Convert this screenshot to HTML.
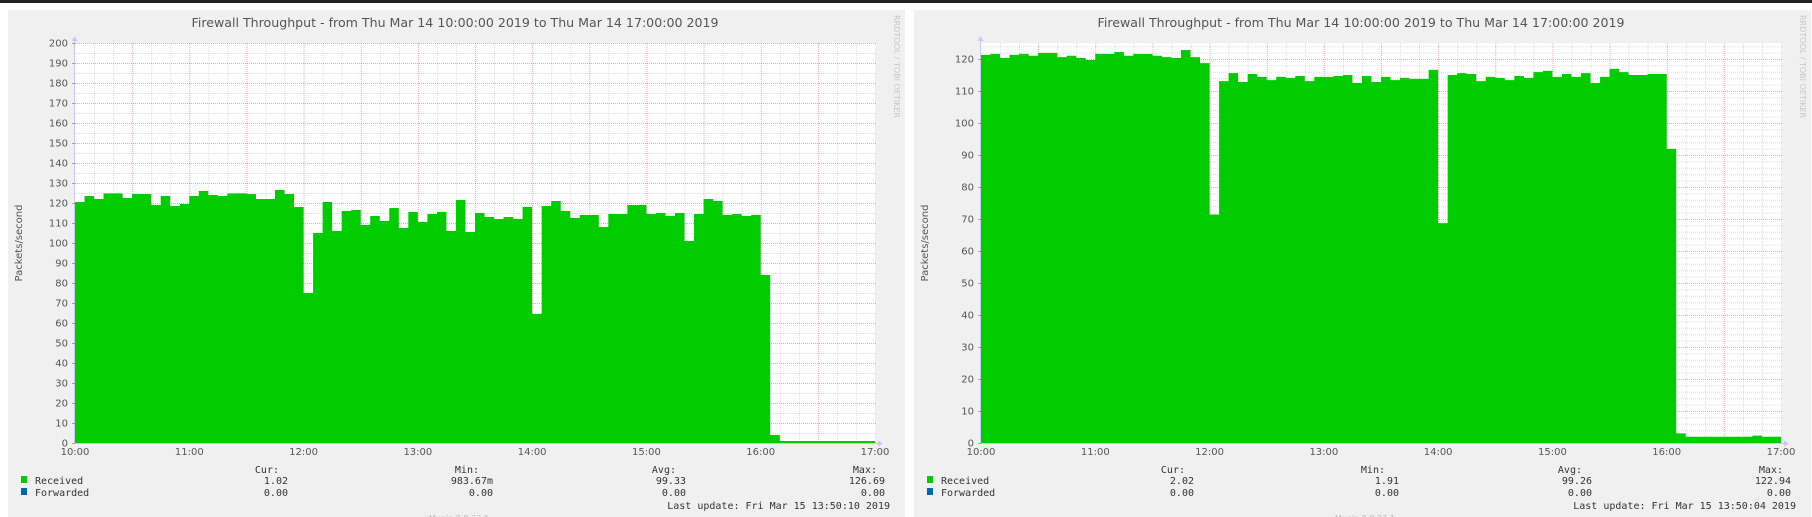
<!DOCTYPE html>
<html><head><meta charset="utf-8">
<style>
html,body{margin:0;padding:0;background:#fff;}
svg{display:block;}
</style></head>
<body>
<svg id="root" width="1812" height="517" viewBox="0 0 1812 517" xmlns="http://www.w3.org/2000/svg">
<rect x="0" y="0" width="1812" height="3" fill="#222"/>
</svg>
<script>
const timeLabels = ["10:00","11:00","12:00","13:00","14:00","15:00","16:00","17:00"];
const leftReceived = [120.5,123.5,122,124.8,124.8,122.5,124.5,124.5,119,123.5,118.5,119.5,123.5,126,124,123.5,124.8,124.8,124.5,122,122,126.5,124.5,118,75,105,120.5,106,116,116.5,109,113.5,111,117.5,107.5,115.5,110.5,114.5,115.5,106,121.5,105.5,115,113,112,113,112,118,64.5,118.5,121,116,112.5,114,114,108,114.5,114.5,119,119,114.5,115,113.5,115,101,114.5,122,121,114,114.5,113.5,114,84,4,1,1,1,1,1,1,1,1,1,1];
const rightReceived = [121.3,121.6,120.3,121.3,121.6,121,121.9,121.9,120.6,121,120.3,119.7,121.6,121.6,122.2,121,121.6,121.6,121,120.6,120.3,122.8,120.6,118.7,71.4,113.1,115.6,112.8,115.3,114.4,113.4,114.4,114.1,114.7,113.1,114.4,114.4,114.7,115,112.5,114.7,112.8,114.4,113.4,114.1,113.8,113.8,116.6,68.7,115,115.6,115.3,113.1,114.4,114.1,113.4,114.7,114.1,115.9,116.3,114.4,115.3,114.4,115.6,112.5,114.4,116.9,115.9,115,115,115.3,115.3,91.9,3,1.95,1.95,1.95,1.95,1.95,1.95,1.95,2.3,1.95,1.95];
const leftYTicks = [0,10,20,30,40,50,60,70,80,90,100,110,120,130,140,150,160,170,180,190,200];
const rightYTicks = [0,10,20,30,40,50,60,70,80,90,100,110,120];
const leftStats = ["1.02","983.67m","99.33","126.69"];
const rightStats = ["2.02","1.91","99.26","122.94"];
const leftUpdate = "Last update: Fri Mar 15 13:50:10 2019";
const rightUpdate = "Last update: Fri Mar 15 13:50:04 2019";

const NS = "http://www.w3.org/2000/svg";
const root = document.getElementById('root');
function mk(tag, attrs, parent){
  const e = document.createElementNS(NS, tag);
  for (const k in attrs) e.setAttribute(k, attrs[k]);
  (parent||root).appendChild(e);
  return e;
}
function txt(str, attrs, parent){ const t = mk('text', attrs, parent); t.textContent = str; return t; }

function drawPanel(ox, data, yMax, yTicks, minorStep, stats, updateStr, name){
  const g = mk('g', {transform:'translate('+ox+',0)'});
  
  
  const bg = mk('rect', {x:8, y:10, width:897, height:507, fill:'#f0f0f0'}, g);
  
  
  const L = 75, R = 875, T = 43, B = 443;
  const xs = i => L + i*(R-L)/data.length;
  const ys = v => B - v*(B-T)/yMax;
  const plot = mk('rect', {x:L, y:T, width:R-L, height:B-T, fill:'#fff'}, g);
  
  
  // grid
  const grid = mk('g', {}, g);
  
  
  for (let v = 0; v <= yMax + 0.001; v += minorStep){
    const major = Math.abs(v/10 - Math.round(v/10)) < 1e-6;
    if (v === 0) continue;
    mk('line', {x1:L, x2:R+2, y1:ys(v)+0.5, y2:ys(v)+0.5, stroke: major?'rgba(210,40,40,0.4)':'rgba(0,0,0,0.13)', 'stroke-width':1, 'stroke-dasharray':'1,1'}, grid);
  }
  for (let m = 10; m < 420; m += 10){
    const x = L + m*(R-L)/420;
    const major = m % 30 === 0;
    mk('line', {x1:x+0.5, x2:x+0.5, y1:T, y2:B, stroke: major?'rgba(210,40,40,0.4)':'rgba(0,0,0,0.13)', 'stroke-width':1, 'stroke-dasharray':'1,1'}, grid);
  }
  // area
  let d = 'M'+L+','+B;
  data.forEach((v,i)=>{ d += ' L'+xs(i)+','+ys(v)+' L'+xs(i+1)+','+ys(v); });
  d += ' L'+R+','+B+' Z';
  const area = mk('path', {d:d, fill:'#00cc00'}, g);
  
  
  // axes
  const axis = mk('g', {}, g);
  
  
  mk('line', {x1:L-0.5, x2:L-0.5, y1:T-4, y2:B+1, stroke:'#c8c8ff', 'stroke-width':1}, axis);
  mk('line', {x1:L-1, x2:R+4, y1:B+0.5, y2:B+0.5, stroke:'#c8c8ff', 'stroke-width':1}, axis);
  mk('path', {d:'M'+(L-3.5)+','+(T-2)+' L'+(L-0.5)+','+(T-7)+' L'+(L+2.5)+','+(T-2)+' Z', fill:'#c8c8ff'}, axis);
  mk('path', {d:'M'+(R+3)+','+(B-2.5)+' L'+(R+8)+','+(B+0.5)+' L'+(R+3)+','+(B+3.5)+' Z', fill:'#c8c8ff'}, axis);
  // y ticks
  yTicks.forEach(v=>{
    const t = txt(String(v), {x:L-7, y:ys(v)+3.5, 'text-anchor':'end', 'font-family':'DejaVu Sans, sans-serif', 'font-size':'10', fill:'#555'}, g);
    
    
    mk('line', {x1:L-3, x2:L, y1:ys(v)+0.5, y2:ys(v)+0.5, stroke:'rgba(210,40,40,0.5)'}, g);
  });
  // x ticks
  timeLabels.forEach((s,i)=>{
    const x = L + i*(R-L)/(timeLabels.length-1);
    const t = txt(s, {x:x, y:455, 'text-anchor':'middle', 'font-family':'DejaVu Sans, sans-serif', 'font-size':'10', fill:'#555'}, g);
    
    
  });
  // title
  const title = txt('Firewall Throughput - from Thu Mar 14 10:00:00 2019 to Thu Mar 14 17:00:00 2019', {x:455, y:27, 'text-anchor':'middle', 'font-family':'DejaVu Sans, sans-serif', 'font-size':'12', fill:'#555', textLength:527, lengthAdjust:'spacingAndGlyphs'}, g);
  
  
  const yt = txt('Packets/second', {x:0, y:0, transform:'translate(22,243) rotate(-90)', 'text-anchor':'middle', 'font-family':'DejaVu Sans, sans-serif', 'font-size':'10', fill:'#555'}, g);
  
  
  const wm = txt('RRDTOOL / TOBI OETIKER', {x:0, y:0, transform:'translate(894,15) rotate(90)', 'font-family':'DejaVu Sans, sans-serif', 'font-size':'8', fill:'#c8c8c8', textLength:103, lengthAdjust:'spacingAndGlyphs'}, g);
  
  
  // legend
  const mono = {'font-family':'DejaVu Sans Mono, Liberation Mono, monospace', 'font-size':'10', fill:'#333'};
  const hdrX = [279, 479, 676, 877];
  const valX = [288, 493, 686, 885];
  ['Cur:','Min:','Avg:','Max:'].forEach((h,i)=>{
    const t = txt(h, Object.assign({x:hdrX[i], y:473, 'text-anchor':'end'}, mono), g);
    
    
  });
  const sq1 = mk('rect', {x:21, y:476, width:6, height:7, fill:'#00cc00'}, g);
  
  
  const l1 = txt('Received', Object.assign({x:35, y:484}, mono), g);
  
  
  const sq2 = mk('rect', {x:21, y:488, width:6, height:7, fill:'#0066b3'}, g);
  
  
  const l2 = txt('Forwarded', Object.assign({x:35, y:496}, mono), g);
  
  
  stats.forEach((s,i)=>{
    const t = txt(s, Object.assign({x:valX[i], y:484, 'text-anchor':'end'}, mono), g);
    
    
    const f = txt('0.00', Object.assign({x:valX[i], y:496, 'text-anchor':'end'}, mono), g);
    
    
  });
  const up = txt(updateStr, Object.assign({x:890, y:509, 'text-anchor':'end'}, mono), g);
  
  
  const mu = txt('Munin 2.0.33-1', {x:459, y:521, 'text-anchor':'middle', 'font-family':'DejaVu Sans, sans-serif', 'font-size':'8', fill:'#bbb'}, g);
  
  
}
drawPanel(0, leftReceived, 200, leftYTicks, 5, leftStats, leftUpdate, 'left-chart');
drawPanel(906, rightReceived, 125, rightYTicks, 2, rightStats, rightUpdate, 'right-chart');
</script>
</body></html>
